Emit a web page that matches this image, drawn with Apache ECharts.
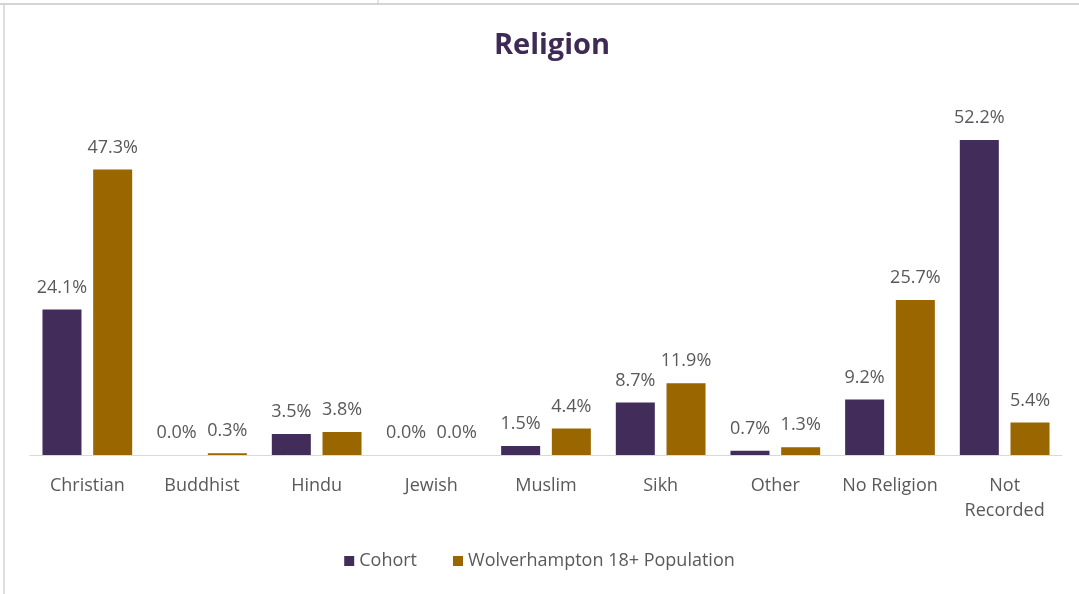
<!DOCTYPE html>
<html>
<head>
<meta charset="utf-8">
<style>
  html, body { margin: 0; padding: 0; background: #ffffff; }
  #chart { width: 1079px; height: 594px; }
</style>
<script src="https://cdn.jsdelivr.net/npm/echarts@6/dist/echarts.min.js"></script>
</head>
<body>
<div id="chart"></div>
<script>
// Religion breakdown: cohort vs Wolverhampton adult population (percent)
const categories = ['Christian', 'Buddhist', 'Hindu', 'Jewish', 'Muslim', 'Sikh', 'Other', 'No Religion', 'Not\nRecorded'];
const cohort = [24.1, 0.0, 3.5, 0.0, 1.5, 8.7, 0.7, 9.2, 52.2];
const wolverhampton = [47.3, 0.3, 3.8, 0.0, 4.4, 11.9, 1.3, 25.7, 5.4];
const seriesNames = ['Cohort', 'Wolverhampton 18+ Population'];

const PURPLE = '#412c5a';
const GOLD = '#9a6600';
const TEXT = '#595959';
const FONT = '"Open Sans", Lato, sans-serif';

const chart = echarts.init(document.getElementById('chart'), null, { renderer: 'canvas' });

const labelStyle = {
  show: true,
  position: 'top',
  distance: 13,
  color: TEXT,
  fontFamily: FONT,
  fontSize: 18,
  formatter: p => p.value.toFixed(1) + '%'
};

chart.setOption({
  backgroundColor: '#ffffff',
  animation: false,
  title: {
    text: 'Religion',
    left: 547,
    textAlign: 'center',
    top: 26,
    textStyle: { color: '#3f2a56', fontFamily: FONT, fontSize: 29, fontWeight: 'bold' }
  },
  legend: {
    data: seriesNames,
    bottom: 19,
    left: 'center',
    itemWidth: 10,
    itemHeight: 10,
    itemGap: 36,
    icon: 'rect',
    textStyle: { color: TEXT, fontFamily: FONT, fontSize: 18 }
  },
  grid: { left: 30, right: 17, top: 93, bottom: 139 },
  xAxis: {
    type: 'category',
    data: categories,
    axisLine: { show: true, lineStyle: { color: '#d9d9d9', width: 1 } },
    axisTick: { show: false },
    axisLabel: { color: TEXT, fontFamily: FONT, fontSize: 18, margin: 18, lineHeight: 25, interval: 0 }
  },
  yAxis: {
    type: 'value',
    min: 0,
    max: 60,
    show: false,
    splitLine: { show: false }
  },
  series: [
    {
      name: seriesNames[0],
      type: 'bar',
      data: cohort,
      barWidth: 39,
      barGap: '30%',
      itemStyle: { color: PURPLE },
      label: labelStyle
    },
    {
      name: seriesNames[1],
      type: 'bar',
      data: wolverhampton,
      barWidth: 39,
      barGap: '30%',
      itemStyle: { color: GOLD },
      label: labelStyle
    }
  ],
  graphic: [
    { type: 'line', shape: { x1: 0, y1: 4, x2: 1079, y2: 4 }, style: { stroke: '#d4d4d4', lineWidth: 2 } },
    { type: 'line', shape: { x1: 4, y1: 4, x2: 4, y2: 594 }, style: { stroke: '#d4d4d4', lineWidth: 1.5 } },
    { type: 'line', shape: { x1: 378, y1: 0, x2: 378, y2: 4 }, style: { stroke: '#c8c8c8', lineWidth: 1 } }
  ]
});
</script>
</body>
</html>
